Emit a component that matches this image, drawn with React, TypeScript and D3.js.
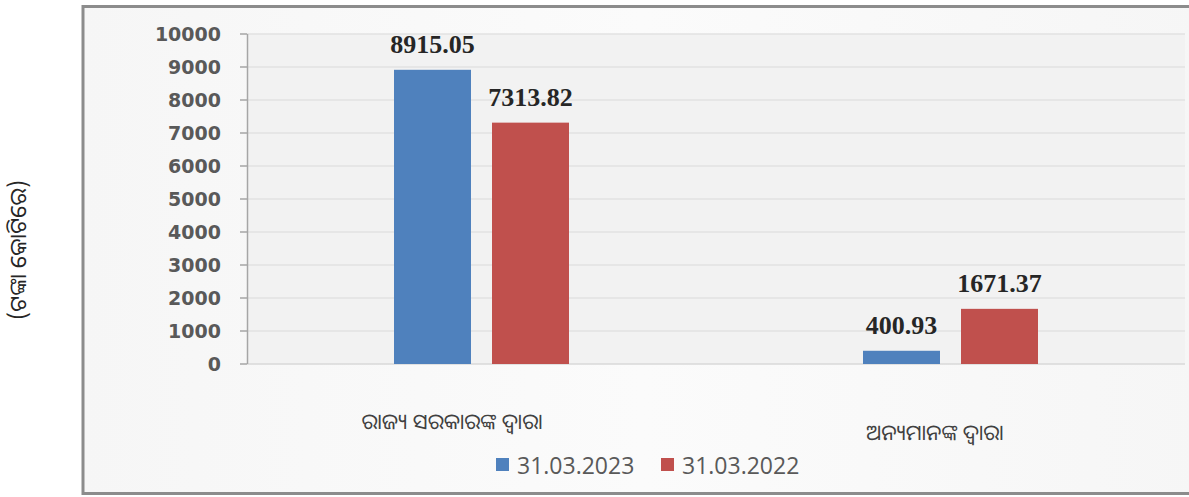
import React from "react";
import * as d3 from "d3";

const categories = ["ରାଜ୍ୟ ସରକାରଙ୍କ ଦ୍ୱାରା", "ଅନ୍ୟମାନଙ୍କ ଦ୍ୱାରା"];
const seriesNames = ["31.03.2023", "31.03.2022"];
const series2023 = [8915.05, 400.93];
const series2022 = [7313.82, 1671.37];
const seriesColors = ["#4f81bd", "#c0504d"];
const yTicks = [0, 1000, 2000, 3000, 4000, 5000, 6000, 7000, 8000, 9000, 10000];
const yTitle = "(ଟଙ୍କା କୋଟିରେ)";

const W = 1189;
const H = 497;

export default function App() {
  const y = d3.scaleLinear().domain([0, 10000]).range([364, 34]);
  const x0 = d3.scaleBand<string>().domain(categories).range([247, 1185]);
  const x1 = d3.scaleBand<string>().domain(seriesNames).range([0, 175]).paddingInner(2 - 175 / 98);
  const seriesVals = [series2023, series2022];
  const groupOffset = (x0.bandwidth() - 175) / 2;
  const catLabelPos = [
    { x: 452, y: 429 },
    { x: 935, y: 440 },
  ];
  const odiaFont = "'Noto Sans Oriya', 'Noto Sans', sans-serif";
  return (
    <svg
      width={W}
      height={H}
      style={{ position: "absolute", left: 0, top: 0, display: "block", background: "#ffffff" }}
    >
      <defs>
        <linearGradient id="bg" x1="0" y1="0" x2="1" y2="0">
          <stop offset="0" stopColor="#f6f6f6" />
          <stop offset="0.5" stopColor="#fbfbfb" />
          <stop offset="1" stopColor="#f6f6f6" />
        </linearGradient>
      </defs>
      <rect x={83} y={6.5} width={1120} height={487} fill="url(#bg)" stroke="#8c8c8c" strokeWidth={3} />
      {/* plot area */}
      <rect x={247} y={34} width={938} height={330} fill="#f2f2f2" />
      {yTicks.map((t) => (
        <line key={"g" + t} x1={247} x2={1185} y1={y(t)} y2={y(t)} stroke={t === 0 ? "#d9d9d9" : "#e2e2e2"} strokeWidth={1.5} />
      ))}
      <line x1={247.5} x2={247.5} y1={y(10000)} y2={y(0)} stroke="#a6a6a6" strokeWidth={1.5} />
      {yTicks.map((t) => (
        <g key={"t" + t}>
          <line x1={240} x2={247} y1={y(t)} y2={y(t)} stroke="#a6a6a6" strokeWidth={1.5} />
          <text
            x={221}
            y={y(t)}
            dy="0.36em"
            textAnchor="end"
            fontFamily="'DejaVu Sans', sans-serif"
            fontWeight="bold"
            fontSize={19}
            fill="#595959"
          >
            {t}
          </text>
        </g>
      ))}
      {categories.map((c, ci) => (
        <g key={c}>
          {seriesNames.map((s, si) => {
            const v = seriesVals[si][ci];
            const bx = (x0(c) ?? 0) + groupOffset + (x1(s) ?? 0);
            const bw = x1.bandwidth();
            return (
              <g key={s}>
                <rect x={bx} y={y(v)} width={bw} height={y(0) - y(v)} fill={seriesColors[si]} />
                <text
                  x={bx + bw / 2}
                  y={y(v) - 17}
                  textAnchor="middle"
                  fontFamily="'Liberation Serif', 'Times New Roman', serif"
                  fontWeight="bold"
                  fontSize={26}
                  fill="#262626"
                >
                  {v.toFixed(2)}
                </text>
              </g>
            );
          })}
          <text
            x={catLabelPos[ci].x}
            y={catLabelPos[ci].y}
            textAnchor="middle"
            fontFamily={odiaFont}
            fontSize={21.5}
            fill="#404040"
          >
            {c}
          </text>
        </g>
      ))}
      <text
        transform="translate(26,250) rotate(-90)"
        textAnchor="middle"
        fontFamily={odiaFont}
        fontSize={23}
        fill="#262626"
      >
        {yTitle}
      </text>
      {seriesNames.map((s, si) => {
        const lx = 496 + si * 165;
        return (
          <g key={"l" + s}>
            <rect x={lx} y={458} width={13} height={13} fill={seriesColors[si]} />
            <text x={lx + 21} y={474} fontFamily="'Open Sans', sans-serif" fontSize={23} fill="#595959">
              {s}
            </text>
          </g>
        );
      })}
    </svg>
  );
}
